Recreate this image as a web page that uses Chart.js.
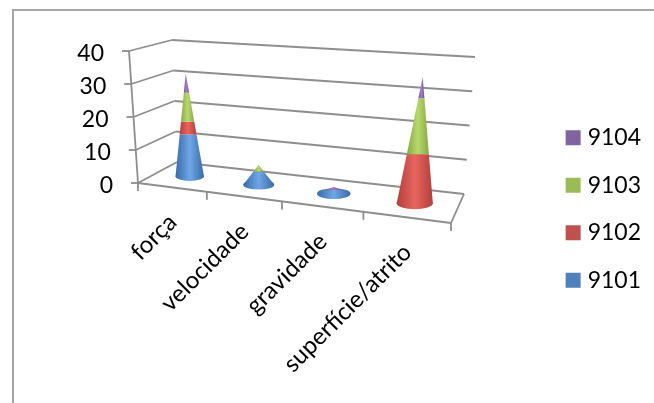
<!DOCTYPE html>
<html>
<head>
<meta charset="utf-8">
<style>
  html, body { margin: 0; padding: 0; background: #fff; }
  canvas { display: block; }
</style>
<script src="https://cdn.jsdelivr.net/npm/chart.js@4/dist/chart.umd.min.js"></script>
</head>
<body>
<canvas id="coneChart" width="654" height="403"></canvas>
<script>
const categories = ['força', 'velocidade', 'gravidade', 'superfície/atrito'];
const seriesNames = ['9101', '9102', '9103', '9104'];
const s9101 = [13, 4, 1, 0];
const s9102 = [4, 0, 0, 14];
const s9103 = [9, 2, 0, 16];
const s9104 = [6, 0, 1, 6];
const seriesValues = [s9101, s9102, s9103, s9104];
const seriesColors = ['#4f81bd', '#c0504d', '#9bbb59', '#8064a2'];
const coneEdges = ['#3a6ba6', '#b33f3c', '#88a845', '#70548f'];
const coneCentres = ['#6ea6e6', '#e8645f', '#b8d86e', '#a080c8'];

const font = 'Lato, sans-serif';
const axisColor = '#8e8e8e';

// box corners on screen: [front/back][left/right], floor and 40 level
const box = {
  floor: { fl: [138, 183], fr: [451, 223], bl: [177, 162], br: [464, 194] },
  top: { fl: [129, 51], fr: [463, 75], bl: [172, 40], br: [475, 57] }
};

const lerp = (a, b, t) => a + (b - a) * t;
const lerpPt = (a, b, t) => [lerp(a[0], b[0], t), lerp(a[1], b[1], t)];

// u along the categories, v up the value axis, d front to back (all 0..1)
function project(u, v, d) {
  const w = u * (0.84 + 0.16 * u); // the left side of the box is further away
  const floor = lerpPt(lerpPt(box.floor.fl, box.floor.fr, w), lerpPt(box.floor.bl, box.floor.br, w), d);
  const top = lerpPt(lerpPt(box.top.fl, box.top.fr, w), lerpPt(box.top.bl, box.top.br, w), d);
  return lerpPt(floor, top, v);
}

function line(ctx, a, b) {
  ctx.beginPath();
  ctx.moveTo(a[0], a[1]);
  ctx.lineTo(b[0], b[1]);
  ctx.stroke();
}

function drawFrame(chart) {
  const ctx = chart.ctx;
  const { x, y } = chart.scales;
  const area = chart.chartArea;

  // outer border, only the top and left sides show
  ctx.strokeStyle = '#a6a6a6';
  ctx.lineWidth = 2;
  ctx.beginPath();
  ctx.moveTo(13, 403);
  ctx.lineTo(13, 10);
  ctx.lineTo(654, 10);
  ctx.stroke();

  ctx.strokeStyle = axisColor;
  ctx.lineWidth = 1.8;

  // gridlines on the side and back walls, value ticks and labels
  ctx.font = '23px ' + font;
  ctx.fillStyle = '#000';
  ctx.textAlign = 'right';
  ctx.textBaseline = 'middle';
  y.ticks.forEach(tick => {
    const v = (area.bottom - y.getPixelForValue(tick.value)) / area.height;
    const front = project(0, v, 0);
    const back = project(0, v, 1);
    line(ctx, [front[0] - 7, front[1]], front);
    line(ctx, front, back);
    line(ctx, back, project(1, v, 1));
    ctx.fillText(tick.label, front[0] - 25, front[1] + 3);
  });

  // front and right edges of the floor, left edge of the value axis
  line(ctx, project(0, 0, 0), project(1, 0, 0));
  line(ctx, project(1, 0, 0), project(1, 0, 1));
  line(ctx, project(0, 0, 0), project(0, 1, 0));

  // category separators
  for (let i = 0; i <= categories.length; i++) {
    const p = project(i / categories.length, 0, 0);
    line(ctx, p, [p[0], p[1] + 8]);
  }

  // slanted category labels
  ctx.font = '24px ' + font;
  x.ticks.forEach((tick, i) => {
    const u = (x.getPixelForValue(tick.value) - area.left) / area.width;
    const p = project(u, 0, 0);
    ctx.save();
    ctx.translate(p[0] + 1, p[1] + 31);
    ctx.rotate(-Math.PI / 4);
    ctx.fillText(categories[i], 0, 0);
    ctx.restore();
  });
}

function drawCones(chart) {
  const ctx = chart.ctx;
  const area = chart.chartArea;
  const metas = seriesNames.map((_, i) => chart.getDatasetMeta(i));

  categories.forEach((_, j) => {
    const topBar = metas[metas.length - 1].data[j];
    const toV = px => (area.bottom - px) / area.height;
    const toU = px => (px - area.left) / area.width;
    const total = toV(topBar.y);
    const u = toU(topBar.x);
    const a = project(u - topBar.width / 2 / area.width, 0, 0.5);
    const b = project(u + topBar.width / 2 / area.width, 0, 0.5);
    const radius = (b[0] - a[0]) / 2;

    metas.forEach((meta, i) => {
      const bar = meta.data[j];
      if (bar.base === bar.y) return;
      const v0 = toV(bar.base);
      const v1 = toV(bar.y);
      const c0 = project(u, v0, 0.5);
      const c1 = project(u, v1, 0.5);
      const r0 = radius * (1 - v0 / total);
      const r1 = radius * (1 - v1 / total);

      const grad = ctx.createLinearGradient(c0[0] - r0, 0, c0[0] + r0, 0);
      grad.addColorStop(0, coneEdges[i]);
      grad.addColorStop(0.5, coneCentres[i]);
      grad.addColorStop(1, coneEdges[i]);
      ctx.fillStyle = grad;

      ctx.beginPath();
      if (v0 === 0) {
        // the round foot of the cone, rim included
        ctx.ellipse(c0[0], c0[1], r0, r0 * 0.32, 0, 0, Math.PI * 2);
        ctx.fill();
        ctx.beginPath();
      }
      ctx.moveTo(c0[0] - r0, c0[1]);
      ctx.lineTo(c1[0] - r1, c1[1]);
      ctx.lineTo(c1[0] + r1, c1[1]);
      ctx.lineTo(c0[0] + r0, c0[1]);
      ctx.closePath();
      ctx.fill();
    });
  });
}

const conePlugin = {
  id: 'cones',
  beforeDatasetsDraw(chart) {
    drawFrame(chart);
    drawCones(chart);
    return false; // the stacked bars are only used for their geometry
  }
};

new Chart(document.getElementById('coneChart'), {
  type: 'bar',
  data: {
    labels: categories,
    datasets: seriesNames.map((name, i) => ({
      label: name,
      data: seriesValues[i],
      backgroundColor: seriesColors[i],
      borderColor: seriesColors[i],
      borderWidth: 9
    }))
  },
  plugins: [conePlugin],
  options: {
    responsive: false,
    animation: false,
    categoryPercentage: 1,
    barPercentage: 0.43,
    layout: { padding: { top: 15, right: 3, bottom: 0, left: 0 } },
    scales: {
      x: { display: false, stacked: true },
      y: { display: false, stacked: true, min: 0, max: 40, ticks: { stepSize: 10 } }
    },
    plugins: {
      tooltip: { enabled: false },
      legend: {
        position: 'right',
        reverse: true,
        labels: {
          boxWidth: 6,
          boxHeight: 6,
          padding: 24.5,
          color: '#000',
          font: { family: font, size: 23 }
        }
      }
    }
  }
});
</script>
</body>
</html>
